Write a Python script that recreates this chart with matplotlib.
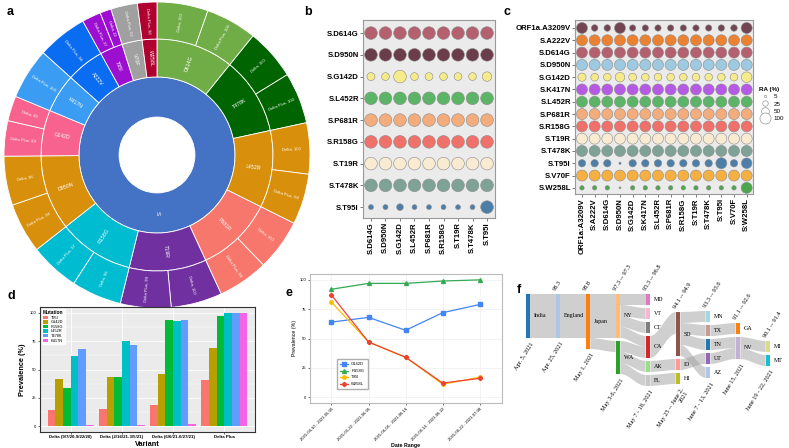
import numpy as np
import matplotlib
matplotlib.use('Agg')
import matplotlib.pyplot as plt
from matplotlib.patches import Rectangle, Polygon
from matplotlib.lines import Line2D

plt.rcParams['font.family'] = ['Liberation Sans', 'DejaVu Sans']

# ---------------- data ----------------
# panel a: sunburst (mutation -> variant prevalence)
sb_mutations = ['D614G', 'T478K', 'L452R', 'P681R', 'T19R', 'R158G', 'D950N',
                'G142D', 'K417N', 'A222V', 'T95I', 'V70F', 'W258L']
sb_delta = [100, 100, 100, 100, 100, 98, 96, 49, 0, 0, 22, 0, 0]
sb_delta_plus = [100, 100, 99, 99, 99, 97, 98, 69, 100, 98, 37, 52, 38]
sb_colors = ['#70ad47', '#006400', '#d88f0b', '#f8776d', '#7030a0', '#00bcd0', '#d88f0b',
             '#f8628f', '#3a9cf2', '#0a6cf0', '#9d0fd0', '#a0a0a0', '#b00030']

# panel b: co-occurrence bubble matrix
b_labels = ['S.D614G', 'S.D950N', 'S.G142D', 'S.L452R', 'S.P681R', 'S.R158G',
            'S.T19R', 'S.T478K', 'S.T95I']
b_ra = [
    [100] * 9,
    [100] * 9,
    [40, 38, 100, 38, 38, 38, 38, 38, 56],
    [100] * 9,
    [100] * 9,
    [100] * 9,
    [100] * 9,
    [100] * 9,
    [16, 16, 28, 15, 15, 15, 15, 15, 100],
]
b_colors = ['#b4606f', '#6b3c4a', '#f6eb8b', '#5cb466', '#f3ac7c', '#f0706a',
            '#f8ebd2', '#7ea295', '#4d7ea8']

# panel c: co-occurrence bubble matrix (Delta Plus)
c_rows = ['ORF1a.A3209V', 'S.A222V', 'S.D614G', 'S.D950N', 'S.G142D', 'S.K417N', 'S.L452R',
          'S.P681R', 'S.R158G', 'S.T19R', 'S.T478K', 'S.T95I', 'S.V70F', 'S.W258L']
c_cols = ['ORF1a:A3209V', 'S:A222V', 'S:D614G', 'S:D950N', 'S:G142D', 'S:K417N', 'S:L452R',
          'S:P681R', 'S:R158G', 'S:T19R', 'S:T478K', 'S:T95I', 'S:V70F', 'S:W258L']
c_ra = [
    [100, 36, 36, 100, 33, 33, 33, 33, 33, 33, 33, 34, 36, 100],
    [100] * 14,
    [100] * 14,
    [100] * 14,
    [55, 48, 48, 75, 52, 48, 48, 48, 48, 48, 48, 48, 48, 92],
    [100] * 14,
    [100] * 14,
    [100] * 14,
    [100] * 14,
    [100] * 14,
    [100] * 14,
    [45, 45, 45, 4, 45, 45, 45, 45, 45, 45, 45, 100, 45, 92],
    [100] * 14,
    [16, 16, 16, 3, 16, 16, 16, 16, 16, 16, 16, 16, 16, 100],
]
c_colors = ['#734552', '#ea8232', '#b4606f', '#9ecae1', '#f6eb8b', '#b65ae5', '#5cb466',
            '#f3ac7c', '#f0706a', '#f8ebd2', '#7ea295', '#4d7ea8', '#f5b041', '#4ca64c']
ra_legend = [5, 25, 50, 100]

# panel d: prevalence by variant
d_groups = ['Delta (9/7/20-9/22/20)', 'Delta (2/16/21-3/5/21)', 'Delta (6/6/21-6/27/21)', 'Delta Plus']
d_mutations = ['T95I', 'G142D', 'R158G', 'L452R', 'T478K', 'K417N']
d_values = [
    [14, 15, 19, 41],
    [42, 43, 46, 69],
    [34, 43, 94, 97],
    [62, 75, 93, 100],
    [68, 72, 94, 100],
    [1, 1, 2, 100],
]
d_colors = ['#F8766D', '#B79F00', '#00BA38', '#00BFC4', '#619CFF', '#F564E3']

# panel e: prevalence over time
e_ranges = ['2021-04-10 - 2021-05-05', '2021-05-22 - 2021-06-05', '2021-06-06 - 2021-06-16',
            '2021-06-14 - 2021-06-22', '2021-06-22 - 2021-07-08']
e_g142d = [64, 68, 57, 72, 79]
e_r158g = [92, 97, 97, 99, 100]
e_t95i = [81, 47, 34, 11, 17]
e_w258l = [87, 47, 34, 12, 16]

# panel f: sankey of spread
sk_nodes = ['India', 'England', 'Japan', 'NY', 'WA', 'MD', 'VT', 'CT', 'CA', 'AK', 'FL',
            'SD', 'ID', 'HI', 'MN', 'TX', 'TN', 'UT', 'AZ', 'GA', 'NV', 'MI', 'MT']
sk_col = [0, 1, 2, 3, 3, 4, 4, 4, 4, 4, 4, 5, 5, 5, 6, 6, 6, 6, 6, 7, 7, 8, 8]
sk_links = [('India', 'England', 4), ('England', 'Japan', 4), ('Japan', 'NY', 4), ('Japan', 'WA', 1),
            ('NY', 'MD', 1), ('NY', 'VT', 1), ('NY', 'CT', 1), ('NY', 'CA', 1),
            ('WA', 'CA', 1), ('WA', 'AK', 1), ('WA', 'FL', 1),
            ('CA', 'SD', 2), ('AK', 'ID', 1), ('FL', 'HI', 1),
            ('SD', 'MN', 1), ('SD', 'TX', 1), ('SD', 'TN', 1), ('SD', 'AZ', 1), ('ID', 'UT', 1),
            ('TX', 'GA', 1), ('TN', 'NV', 1), ('UT', 'NV', 1), ('NV', 'MI', 1), ('NV', 'MT', 1)]
sk_colors = ['#1f77b4', '#aec7e8', '#ff7f0e', '#ffbb78', '#2ca02c', '#e377c2', '#f7b6d2', '#7f7f7f',
             '#d62728', '#98df8a', '#c7c7c7', '#8c564b', '#ff9896', '#bcbd22', '#9edae5', '#c49c94',
             '#1f77b4', '#9467bd', '#aec7e8', '#ff7f0e', '#c5b0d5', '#dbdb8d', '#17becf']
sk_identity = ['', '98.3', '98.8', '97.3 -- 97.5', '95.3 -- 96.8', '94.1 -- 94.9',
               '93.3 -- 93.6', '91.1 -- 92.6', '90.1 -- 91.4']
sk_dates = ['Apr. 5, 2021', 'Apr. 25, 2021', 'May 1, 2021', 'May 3-6, 2021', 'May 7 - 18, 2021',
            'May 25 -- June 2,\n2021', 'June 7 - 13, 2021', 'June 15, 2021', 'June 19 - 22, 2021']

# ---------------- figure ----------------
W, H = 789, 448
fig = plt.figure(figsize=(W / 100, H / 100), dpi=100)


def px_axes(x0, y0, x1, y1):
    # axes placed in pixel coordinates (top-left origin)
    return fig.add_axes([x0 / W, 1 - y1 / H, (x1 - x0) / W, (y1 - y0) / H])


def panel_letter(x, y, s):
    fig.text(x / W, 1 - y / H, s, fontsize=9, fontweight='bold', ha='left', va='center')


# ---- panel a: sunburst ----
ax = px_axes(4, 2, 310, 308)
r0, r1, r2, r3 = 0.248, 0.51, 0.758, 1.0
parent_vals = [a + b for a, b in zip(sb_delta, sb_delta_plus)]
child_vals, child_cols, child_txt = [], [], []
for m, a, b, c in zip(sb_mutations, sb_delta, sb_delta_plus, sb_colors):
    kids = [('Delta', a), ('Delta Plus', b)]
    kids = sorted([k for k in kids if k[1] > 0], key=lambda k: -k[1])
    for name, v in kids:
        child_vals.append(v)
        child_cols.append(c)
        child_txt.append(f'{name}, {v}')

ax.pie([1], radius=r1, colors=['#4472c4'], startangle=90, counterclock=False,
       wedgeprops=dict(width=r1 - r0, edgecolor='white', linewidth=0.6))
ax.pie(parent_vals, radius=r2, colors=sb_colors, startangle=90, counterclock=False,
       wedgeprops=dict(width=r2 - r1, edgecolor='white', linewidth=0.6))
ax.pie(child_vals, radius=r3, colors=child_cols, startangle=90, counterclock=False,
       wedgeprops=dict(width=r3 - r2, edgecolor='white', linewidth=0.6))


def ring_labels(values, texts, ra, rb, size):
    total = sum(values)
    cum = 0
    for v, t in zip(values, texts):
        mid = 90 - 360 * (cum + v / 2) / total
        cum += v
        ang = (mid + 180) % 360 - 180
        if ang > 90:
            ang -= 180
        elif ang < -90:
            ang += 180
        r = (ra + rb) / 2
        ax.text(r * np.cos(np.radians(mid)), r * np.sin(np.radians(mid)), t, rotation=ang,
                rotation_mode='anchor', ha='center', va='center', color='white', fontsize=size)


ring_labels(parent_vals, sb_mutations, r1, r2, 3.8)
ring_labels(child_vals, child_txt, r2, r3, 3.0)
ax.text(0, -(r0 + r1) / 2, 'S', rotation=-90, ha='center', va='center', color='white', fontsize=4.5)
ax.set_xlim(-1, 1)
ax.set_ylim(-1, 1)
ax.axis('off')


# ---- panels b and c: bubble matrices ----
def bubble(ax, rows, cols, ra, colors, scale, fs):
    n, m = len(rows), len(cols)
    for i in range(n):
        ax.scatter(np.arange(m), np.full(m, n - 1 - i), s=np.array(ra[i]) * scale,
                   color=colors[i], edgecolor='#8c8c8c', linewidth=0.4, zorder=3)
    ax.set_facecolor('#ebebeb')
    ax.set_xticks(np.arange(m))
    ax.set_xticklabels(cols, rotation=90, fontsize=fs, fontweight='bold')
    ax.set_yticks(np.arange(n))
    ax.set_yticklabels(rows[::-1], fontsize=fs, fontweight='bold')
    ax.tick_params(length=2, width=0.5, color='#444444', pad=1)
    for sp in ax.spines.values():
        sp.set_color('#999999')
        sp.set_linewidth(0.8)


ax = px_axes(363, 20, 495, 218)
bubble(ax, b_labels, b_labels, b_ra, b_colors, 0.83, 5.6)
ax.set_xlim(-0.55, 8.55)
ax.set_ylim(-0.5, 8.6)

ax = px_axes(575, 20, 753, 194)
bubble(ax, c_rows, c_cols, c_ra, c_colors, 0.63, 5.6)
ax.set_xlim(-0.55, 13.5)
ax.set_ylim(-0.5, 13.65)
handles = [Line2D([], [], linestyle='', marker='o', markersize=np.sqrt(v * 0.63),
                  markerfacecolor='white', markeredgecolor='#999999', markeredgewidth=0.5)
           for v in ra_legend]
leg = ax.legend(handles, [str(v) for v in ra_legend], title='RA (%)', loc='upper left',
                bbox_to_anchor=(1.01, 0.64), frameon=False, fontsize=4.5, handletextpad=0.3,
                labelspacing=0.3, borderpad=0.2, title_fontproperties={'weight': 'bold', 'size': 4.5})
leg._legend_box.align = 'left'

# ---- panel d: grouped bars ----
ax = px_axes(40, 307, 255, 432)
ax.set_facecolor('#ebebeb')
x = np.arange(len(d_groups))
bw = 0.15
for j, (mut, vals) in enumerate(zip(d_mutations, d_values)):
    ax.bar(x + (j - 2.5) * bw, vals, width=bw, color=d_colors[j], label=mut, zorder=3)
ax.set_xlim(-0.6, 3.6)
ax.set_ylim(-5, 105)
ax.set_yticks([0, 25, 50, 75, 100])
ax.set_xticks(x)
ax.set_xticklabels(d_groups, fontsize=3.2, fontweight='bold')
ax.tick_params(axis='y', labelsize=3, length=1.5, width=0.4, pad=1)
ax.tick_params(axis='x', length=1.5, width=0.4, pad=1)
ax.grid(color='white', linewidth=0.6, zorder=0)
ax.set_yticks([12.5, 37.5, 62.5, 87.5], minor=True)
ax.grid(which='minor', axis='y', color='white', linewidth=0.3, zorder=0)
ax.tick_params(which='minor', length=0)
ax.set_axisbelow(True)
ax.set_ylabel('Prevalence (%)', fontsize=5.3, fontweight='bold', labelpad=3)
ax.set_xlabel('Variant', fontsize=5.3, fontweight='bold', labelpad=1)
for sp in ax.spines.values():
    sp.set_color('#333333')
    sp.set_linewidth(0.8)
ax.legend(loc='upper left', title='Mutation', fontsize=2.8, frameon=True, facecolor='white',
          edgecolor='white', handlelength=1.2, handleheight=0.9, labelspacing=0.15,
          borderpad=0.3, title_fontproperties={'weight': 'bold', 'size': 3.5}, alignment='left')

# ---- panel e: line chart ----
ax = px_axes(310, 274, 502, 403)
xe = np.arange(len(e_ranges))
ax.plot(xe, e_g142d, color='#4285f4', marker='s', markersize=2.5, linewidth=0.9, label='G142D')
ax.plot(xe, e_r158g, color='#34a853', marker='^', markersize=2.8, linewidth=0.9, label='R158G')
ax.plot(xe, e_t95i, color='#fbbc05', marker='o', markersize=2.5, linewidth=0.9, label='T95I')
ax.plot(xe, e_w258l, color='#ea4335', marker='P', markersize=2.8, linewidth=0.9, label='W258L')
ax.set_xlim(-0.58, 4.6)
ax.set_ylim(-5, 105)
ax.set_yticks([0, 25, 50, 75, 100])
ax.set_xticks(xe)
ax.set_xticklabels(e_ranges, rotation=45, ha='right', rotation_mode='anchor', fontsize=3)
ax.tick_params(labelsize=3, length=1.5, width=0.4, pad=1)
ax.grid(color='#eeeeee', linewidth=0.5)
ax.set_ylabel('Prevalence (%)', fontsize=3.8, labelpad=2)
ax.set_xlabel('Date Range', fontsize=3.8, fontweight='bold', labelpad=1)
for sp in ax.spines.values():
    sp.set_color('#bbbbbb')
    sp.set_linewidth(0.8)
ax.legend(loc='lower left', bbox_to_anchor=(0.13, 0.09), fontsize=3, edgecolor='#999999',
          fancybox=False, handlelength=1.8, labelspacing=0.6, borderpad=0.8)

# ---- panel f: sankey ----
ax = px_axes(515, 270, 789, 448)
col_top = [0, 0, 0, 0, 0, 1.64, 1.55, 2.64, 4.27]
gap, nw = 0.27, 0.16
idx = {n: i for i, n in enumerate(sk_nodes)}
size_in = np.zeros(len(sk_nodes))
size_out = np.zeros(len(sk_nodes))
for s, t, v in sk_links:
    size_out[idx[s]] += v
    size_in[idx[t]] += v
node_size = np.maximum(size_in, size_out)
node_top = np.zeros(len(sk_nodes))
cursor = {}
for i, c in enumerate(sk_col):
    y = cursor.get(c, col_top[c])
    node_top[i] = y
    cursor[c] = y + node_size[i] + gap

out_off = node_top.copy()
in_off = node_top.copy()
links_sorted = sorted(sk_links, key=lambda l: (node_top[idx[l[0]]], node_top[idx[l[1]]]))
t = np.linspace(0, 1, 50)
sm = 3 * t ** 2 - 2 * t ** 3
# outgoing slots by target order, incoming slots by source order
slot_out = {}
for s in sk_nodes:
    for l in sorted([l for l in sk_links if l[0] == s], key=lambda l: node_top[idx[l[1]]]):
        slot_out[l] = out_off[idx[s]]
        out_off[idx[s]] += l[2]
slot_in = {}
for d in sk_nodes:
    for l in sorted([l for l in sk_links if l[1] == d], key=lambda l: node_top[idx[l[0]]]):
        slot_in[l] = in_off[idx[d]]
        in_off[idx[d]] += l[2]
for l in sk_links:
    s, d, v = l
    x0 = sk_col[idx[s]] + nw / 2
    x1 = sk_col[idx[d]] - nw / 2
    y0, y1 = slot_out[l], slot_in[l]
    xs = x0 + (x1 - x0) * t
    top = y0 + (y1 - y0) * sm
    poly = np.concatenate([np.column_stack([xs, top]), np.column_stack([xs[::-1], top[::-1] + v])])
    ax.add_patch(Polygon(poly, closed=True, facecolor='#a0a0a0', alpha=0.5, edgecolor='none'))
for i, n in enumerate(sk_nodes):
    ax.add_patch(Rectangle((sk_col[i] - nw / 2, node_top[i]), nw, node_size[i],
                           facecolor=sk_colors[i], edgecolor='none', zorder=3))
    ax.text(sk_col[i] + nw / 2 + 0.12, node_top[i] + node_size[i] / 2, n, ha='left', va='center',
            fontsize=4.3, family='Liberation Serif', zorder=4)
for c in range(9):
    members = [i for i in range(len(sk_nodes)) if sk_col[i] == c]
    first, last = members[0], members[-1]
    if sk_identity[c]:
        ax.text(c - 0.05, node_top[first] - 0.25, sk_identity[c], rotation=58, rotation_mode='anchor',
                ha='left', va='bottom', fontsize=4.5, family='Liberation Serif')
    ax.text(c + nw / 2, node_top[last] + node_size[last] + 0.3, sk_dates[c], rotation=58,
            rotation_mode='anchor', ha='right', va='top', fontsize=4.5, family='Liberation Serif',
            multialignment='right')
ax.set_xlim(-0.433, 8.7)
ax.set_ylim(14.0, -2.18)
ax.axis('off')

# panel letters
panel_letter(7, 12, 'a')
panel_letter(304, 12, 'b')
panel_letter(503, 12, 'c')
panel_letter(7, 296, 'd')
panel_letter(286, 293, 'e')
panel_letter(517, 290, 'f')

fig.savefig('out.png', dpi=100)
